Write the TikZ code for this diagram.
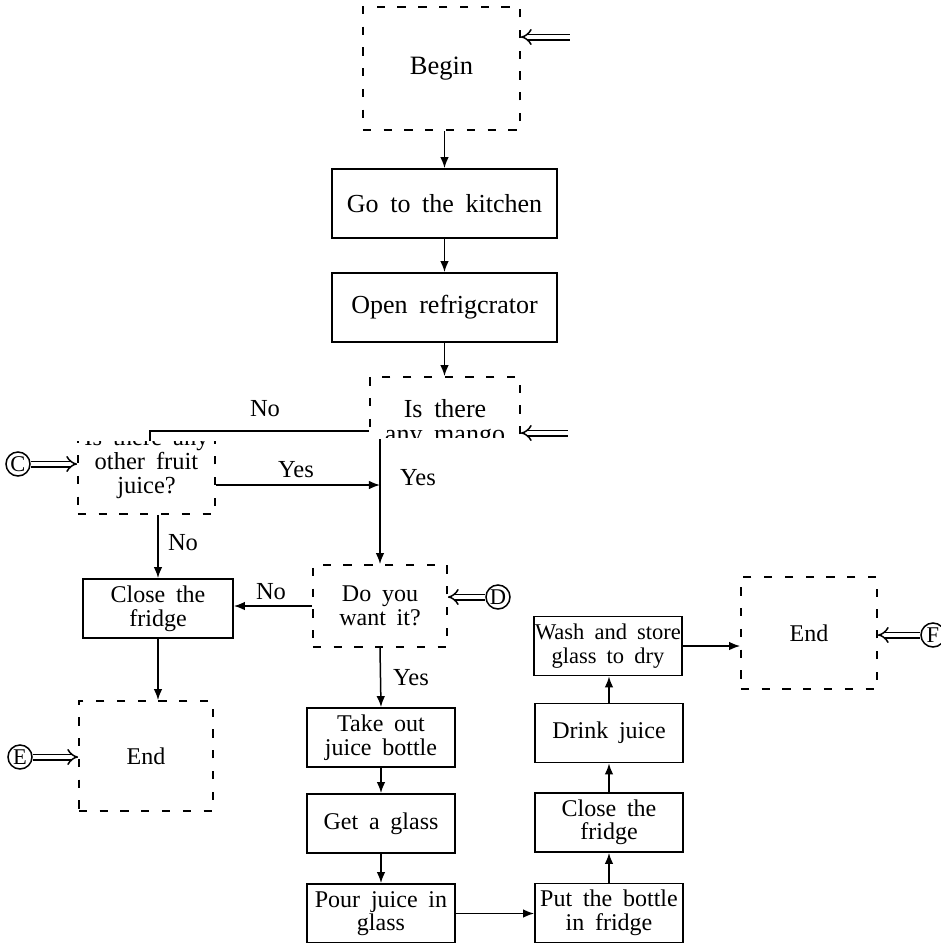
\documentclass[tikz,border=0pt]{standalone}
\usepackage{fontspec}
\setmainfont{Liberation Serif}[WordSpace=1.8]
\usetikzlibrary{arrows.meta}

\begin{document}
\begin{tikzpicture}[x=0.4pt,y=-0.4pt,
    box/.style={draw,line width=0.7pt,minimum width=59.2pt,minimum height=23.6pt,align=center,inner sep=1pt,font=\fontsize{9.6}{9.4}\selectfont},
    widebox/.style={box,minimum width=90pt,minimum height=27.6pt,font=\fontsize{10.4}{11}\selectfont},
    cutbox/.style={box,dash pattern=on 3.3pt off 5pt},
    flow/.style={line width=0.6pt,-{Latex[length=4.4pt,width=3.4pt]}},
    entry/.style={double,double distance=1.6pt,line width=0.6pt,-{Implies}},
    letter/.style={circle,draw,line width=0.6pt,inner sep=0pt,minimum size=9.6pt,font=\fontsize{9}{9}\selectfont},
    lbl/.style={font=\fontsize{9.8}{10}\selectfont}]
    \useasboundingbox (0,0) rectangle (941,943);
    \node[cutbox,minimum width=62.8pt,minimum height=49.2pt,font=\fontsize{10.6}{11}\selectfont] (begin) at (441.5,68.5) {Begin};
    \node[widebox] (kitchen) at (444.5,203.5) {Go to the kitchen};
    \node[widebox] (fridge) at (444.5,307.5) {Open refrigcrator};
    \begin{scope}
        \clip (300,360) rectangle (600,437);
        \node[cutbox,minimum width=60pt,minimum height=37.6pt,font=\fontsize{10.4}{10}\selectfont] (mango) at (445,424) {Is there\\any mango};
    \end{scope}
    \begin{scope}
        \clip (60,441) rectangle (240,530);
        \node[cutbox,minimum width=54.8pt,minimum height=40pt,font=\fontsize{9.8}{9.6}\selectfont] (other) at (146.5,464) {Is there any\\other fruit\\juice?};
    \end{scope}
    \node[cutbox,minimum width=53.6pt,minimum height=32.8pt] (want) at (380,606) {Do you\\want it?};
    \node[box,minimum width=60pt] (close) at (158,608.5) {Close the\\fridge};
    \node[cutbox,minimum width=53.6pt,minimum height=44pt] (endl) at (146,756) {End};
    \node[box] (bottle) at (381,737.5) {Take out\\juice bottle};
    \node[box] (glass) at (381,823.5) {Get a glass};
    \node[box] (pour) at (381,913.5) {Pour juice in\\glass};
    \node[box] (put) at (609,913) {Put the bottle\\in fridge};
    \node[box] (shut) at (609,822.5) {Close the\\fridge};
    \node[box] (drink) at (609,733) {Drink juice};
    \node[box,inner sep=0.5pt,font=\fontsize{9}{9.4}\selectfont] (wash) at (608,646) {Wash and store\\glass to dry};
    \node[cutbox,minimum width=54.4pt,minimum height=44.8pt] (endr) at (809,633) {End};
    \node[letter] (C) at (18,464) {C};
    \node[letter] (D) at (498,597) {D};
    \node[letter] (E) at (20,757) {E};
    \node[letter] (F) at (933,635) {F};
    \coordinate (bin) at (570,37);
    \coordinate (min) at (568,433);
    \coordinate (otop) at (150,441);
    \coordinate (split) at (380,439);
    \draw[flow] (kitchen.north |- begin.south) -- (kitchen.north);
    \draw[flow] (kitchen.south) -- (fridge.north);
    \draw[flow] (fridge.south) -- (fridge.south |- mango.north);
    \draw[line width=0.6pt] ([yshift=-2.8pt]mango.west) -| (otop);
    \draw[flow] (split) -- (want.north);
    \draw[flow] ([yshift=-8.4pt]other.east) -- ([yshift=-8.4pt]other.east -| split);
    \draw[flow] (other.south -| close.north) -- (close.north);
    \draw[flow] (want.west) -- (want.west -| close.east);
    \draw[flow] (close.south) -- (close.south |- endl.north);
    \draw[flow] (want.south) -- (bottle.north);
    \draw[flow] (bottle.south) -- (glass.north);
    \draw[flow] (glass.south) -- (pour.north);
    \draw[flow] (pour.east) -- (pour.east -| put.west);
    \draw[flow] (put.north) -- (shut.south);
    \draw[flow] (shut.north) -- (drink.south);
    \draw[flow] (drink.north) -- (drink.north |- wash.south);
    \draw[flow] (wash.east) -- (wash.east -| endr.west);
    \draw[entry] (bin) -- (bin -| begin.east);
    \draw[entry] (min) -- (min -| mango.east);
    \draw[entry] (C) -- (C -| other.west);
    \draw[entry] (D) -- (D -| want.east);
    \draw[entry] (E) -- (E -| endl.west);
    \draw[entry] (F) -- (F -| endr.east);
    \node[lbl] (no1) at (265,409) {No};
    \node[lbl] (yes1) at (296,470) {Yes};
    \node[lbl] (yes2) at (418,478) {Yes};
    \node[lbl] (no2) at (183,543) {No};
    \node[lbl] (no3) at (271,592) {No};
    \node[lbl] (yes3) at (411,678) {Yes};
\end{tikzpicture}
\end{document}
